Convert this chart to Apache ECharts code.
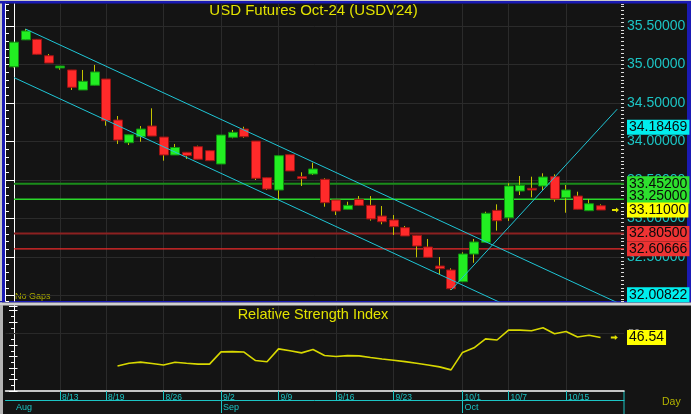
<!DOCTYPE html>
<html><head><meta charset="utf-8">
<script src="https://cdn.jsdelivr.net/npm/echarts@6/dist/echarts.min.js"></script>
<style>html,body{margin:0;padding:0;background:#141414;overflow:hidden}#c{width:691px;height:414px}</style>
</head><body><div id="c"></div>
<script>
// ---------- data ----------
const dates = ['8/6','8/7','8/8','8/9','8/13','8/14','8/15','8/16','8/19','8/20','8/21','8/22','8/23',
  '8/26','8/27','8/28','8/29','8/30','9/2','9/3','9/4','9/5','9/6','9/9','9/10','9/11','9/12','9/13',
  '9/16','9/17','9/18','9/19','9/20','9/23','9/24','9/25','9/26','9/27','9/30','10/1','10/2','10/3','10/4',
  '10/7','10/8','10/9','10/10','10/11','10/15','10/16','10/17','10/18'];
const opens  = [34.970,35.320,35.327,35.114,34.955,34.929,34.669,34.730,34.812,34.279,33.984,34.062,34.201,
  34.058,33.825,33.860,33.933,33.881,33.708,34.055,34.162,34.006,33.530,33.370,33.829,33.543,33.578,33.509,
  33.240,33.119,33.249,33.171,33.032,32.981,32.881,32.782,32.630,32.383,32.331,32.179,32.539,32.691,33.106,
  33.010,33.357,33.392,33.422,33.543,33.270,33.292,33.101,33.166];
const closes = [35.290,35.435,35.132,35.019,34.980,34.704,34.782,34.903,34.270,34.019,34.088,34.162,34.071,
  33.825,33.922,33.816,33.769,33.751,34.084,34.119,34.062,33.522,33.383,33.816,33.617,33.517,33.643,33.205,
  33.097,33.171,33.171,32.994,32.958,32.894,32.773,32.643,32.496,32.348,32.088,32.539,32.695,33.068,32.971,
  33.422,33.431,33.370,33.539,33.253,33.370,33.119,33.192,33.110];
const lows   = [34.960,35.318,35.130,35.019,34.933,34.669,34.669,34.730,34.205,33.968,33.955,33.997,34.071,
  33.751,33.825,33.773,33.769,33.751,33.708,34.042,34.049,33.500,33.370,33.249,33.617,33.422,33.565,33.153,
  33.045,33.119,33.171,32.972,32.925,32.786,32.773,32.496,32.496,32.275,32.071,32.179,32.425,32.691,32.842,
  32.968,33.305,33.275,33.370,33.218,33.075,33.119,33.101,33.110];
const highs  = [35.290,35.461,35.330,35.136,34.980,34.929,34.929,34.994,34.812,34.331,34.088,34.201,34.431,
  34.058,33.968,33.860,33.946,33.881,34.084,34.149,34.192,34.006,33.530,33.816,33.829,33.600,33.725,33.522,
  33.240,33.218,33.292,33.292,33.162,33.045,32.903,32.782,32.734,32.500,32.353,32.561,32.734,33.088,33.184,
  33.457,33.552,33.543,33.587,33.574,33.435,33.348,33.249,33.184];
const rsi = [null,null,null,null,null,null,null,null,null,
  21.7,24.1,25.1,24.0,22.6,25.0,24.1,23.4,23.4,34.1,34.3,33.9,26.5,25.4,36.7,35.0,33.2,36.1,30.9,
  30.0,30.8,30.6,29.1,27.8,26.8,25.6,24.2,22.6,21.0,18.4,33.6,37.6,45.4,44.4,53.0,53.0,52.4,55.0,
  49.8,51.8,47.0,48.5,46.54];
const tickDates = ['8/13','8/19','8/26','9/2','9/9','9/16','9/23','10/1','10/7','10/15'];
const monthLabels = ['Aug','Sep','Oct'];
const monthStartDates = ['8/6','9/2','10/1'];
const levelValues = [33.452, 33.25, 32.805, 32.60666];
const upperTrend  = [[1, 35.461], [51, 32.00822], [53, 31.871]];
const lowerTrend  = [[0, 34.83], [44, 31.79]];
const risingTrend = [[38, 32.071], [51, 34.18469], [52.45, 34.42]];
const rsiMid = 50;
const titleText = 'USD Futures Oct-24 (USDV24)';
const rsiTitle = 'Relative Strength Index';

// ---------- layout / style ----------
const X_MIN = -0.74, X_MAX = 53.04, P_MIN = 31.9286, P_MAX = 35.7857;
const FONT = '"Liberation Sans", Arial, sans-serif';
const CYAN = '#1cc4c4', GRID = '#2b2b2b', TREND = '#1fc6d6', YEL = '#e3e300';
const idx = d => dates.indexOf(d);
const tickIdx = tickDates.map(idx);
const monthIdx = monthStartDates.map(idx);
const lastI = dates.length - 1;
const candleFull = dates.map((d, i) => [i, opens[i], closes[i], lows[i], highs[i]]);
const candleBody = dates.map((d, i) => [i, opens[i], closes[i], Math.min(opens[i], closes[i]), Math.max(opens[i], closes[i])]);
const rsiPts = rsi.map((v, i) => v == null ? null : [i, v]).filter(Boolean);
const ARROW = 'path://M0 1.5 H4 V0 L7 2.5 L4 5 V3.5 H0 Z';

function boxPoint(x, v, bg, txt, offY) {
  return {coord: [x, v], symbol: 'rect', symbolSize: 0.01, itemStyle: {color: 'rgba(0,0,0,0)'},
    label: {show: true, position: 'right', distance: 3, formatter: () => txt, backgroundColor: bg,
      color: '#0a0a0a', fontFamily: FONT, fontSize: 14, lineHeight: 15, padding: [0, 2, 0, 2],
      offset: [0, offY || 0]}};
}
const levelStyles = [
  {c: '#1a8c1a', w: 2, bg: '#2ee02e', off: 0},
  {c: '#2ad82a', w: 1.3, bg: '#2ee02e', off: -3},
  {c: '#8c2020', w: 2, bg: '#ee3333', off: 0},
  {c: '#ee2a2a', w: 1.3, bg: '#ee3333', off: 0}
];
const levelSeries = levelValues.map((v, k) => ({
  type: 'line', xAxisIndex: 0, yAxisIndex: 0, data: [[0, v], [X_MAX, v]], symbol: 'none', silent: true, z: 3,
  lineStyle: {color: levelStyles[k].c, width: levelStyles[k].w, type: 'solid'}
}));
const labelPoints = levelValues.map((v, k) => boxPoint(X_MAX, v, levelStyles[k].bg, v.toFixed(5), levelStyles[k].off))
  .concat([
    boxPoint(X_MAX, risingTrend[1][1], '#00eeee', risingTrend[1][1].toFixed(5)),
    boxPoint(X_MAX, upperTrend[1][1], '#00eeee', upperTrend[1][1].toFixed(5)),
    boxPoint(X_MAX, closes[lastI], '#ffff00', closes[lastI].toFixed(5)),
    {coord: [52.3, closes[lastI]], symbol: ARROW, symbolSize: [7, 5], itemStyle: {color: YEL}, label: {show: false}}
  ]);

const chart = echarts.init(document.getElementById('c'), null, {renderer: 'canvas'});
const option = {
  animation: false,
  backgroundColor: '#141414',
  textStyle: {fontFamily: FONT},
  grid: [
    {left: 5.5, top: 4, width: 618.5, height: 297},
    {left: 5.5, top: 306, width: 618.5, height: 85}
  ],
  xAxis: [
    {gridIndex: 0, type: 'value', min: X_MIN, max: X_MAX, axisLine: {show: false},
     axisTick: {show: false, customValues: tickIdx}, axisLabel: {show: false, customValues: tickIdx},
     splitLine: {show: true, lineStyle: {color: GRID, width: 1}}},
    {gridIndex: 1, type: 'value', min: X_MIN, max: X_MAX, position: 'bottom',
     axisLine: {show: true, onZero: false, lineStyle: {color: '#ffffff', width: 1.5}},
     axisTick: {show: true, customValues: tickIdx, length: 9, lineStyle: {color: CYAN, width: 1}},
     axisLabel: {show: true, customValues: tickIdx, formatter: v => dates[Math.round(v)], color: CYAN,
       fontFamily: FONT, fontSize: 8.5, align: 'left', verticalAlign: 'top', margin: 2, padding: [0, 0, 0, 2]},
     splitLine: {show: true, lineStyle: {color: GRID, width: 1}}},
    {gridIndex: 1, type: 'value', min: X_MIN, max: X_MAX, position: 'bottom', offset: 9,
     axisLine: {show: true, onZero: false, lineStyle: {color: CYAN, width: 1}},
     axisTick: {show: true, customValues: monthIdx.slice(1), length: 13, lineStyle: {color: CYAN, width: 1}},
     axisLabel: {show: true, customValues: monthIdx, formatter: v => monthLabels[monthIdx.indexOf(Math.round(v))],
       color: CYAN, fontFamily: FONT, fontSize: 9, align: 'left', verticalAlign: 'top', margin: 3, padding: [0, 0, 0, 2]},
     splitLine: {show: false}}
  ],
  yAxis: [
    {gridIndex: 0, type: 'value', position: 'right', min: P_MIN, max: P_MAX, splitNumber: 8,
     axisLine: {show: true, lineStyle: {color: '#ffffff', width: 1}},
     axisTick: {show: true, inside: true, length: 6, lineStyle: {color: '#ffffff'}},
     axisLabel: {show: true, color: CYAN, fontFamily: FONT, fontSize: 14, margin: 3,
       formatter: v => v.toFixed(5), showMinLabel: false, showMaxLabel: false},
     splitLine: {show: true, showMinLine: false, showMaxLine: false, lineStyle: {color: GRID, width: 1}}},
    {gridIndex: 0, type: 'value', position: 'left', min: P_MIN, max: P_MAX, splitNumber: 38,
     axisLine: {show: true, lineStyle: {color: '#ffffff', width: 1}},
     axisTick: {show: true, inside: true, length: 3.5, lineStyle: {color: '#ffffff'}},
     axisLabel: {show: false}, splitLine: {show: false}},
    {gridIndex: 0, type: 'value', position: 'right', min: P_MIN, max: P_MAX, splitNumber: 77,
     axisLine: {show: false},
     axisTick: {show: true, inside: true, length: 3, lineStyle: {color: '#dddddd'}},
     axisLabel: {show: false}, splitLine: {show: false}},
    {gridIndex: 1, type: 'value', position: 'right', min: 0, max: 74, interval: 10,
     axisLine: {show: true, lineStyle: {color: '#ffffff', width: 1}},
     axisTick: {show: true, inside: true, length: 5, lineStyle: {color: '#ffffff'}},
     minorTick: {show: true, splitNumber: 2, length: 3, lineStyle: {color: '#ffffff'}},
     axisLabel: {show: true, customValues: [rsiMid], color: '#9a9a9a', fontFamily: FONT, fontSize: 11, margin: 4},
     splitLine: {show: false}},
    {gridIndex: 1, type: 'value', position: 'left', min: 0, max: 74, interval: 10,
     axisLine: {show: true, lineStyle: {color: '#ffffff', width: 1}},
     axisTick: {show: true, inside: true, length: 3.5, lineStyle: {color: '#ffffff'}},
     axisLabel: {show: false}, splitLine: {show: false}}
  ],
  series: [
    {type: 'line', name: 'rsiMid', xAxisIndex: 1, yAxisIndex: 3, data: [[X_MIN, rsiMid], [X_MAX, rsiMid]],
     symbol: 'none', silent: true, z: 1, lineStyle: {color: GRID, width: 1}},
    {type: 'candlestick', name: 'wick', xAxisIndex: 0, yAxisIndex: 0, data: candleFull, barWidth: 1,
     itemStyle: {color: '#c4c400', color0: '#c4c400', borderColor: '#c4c400', borderColor0: '#c4c400', borderWidth: 1},
     silent: true, z: 4},
    {type: 'candlestick', name: 'body', xAxisIndex: 0, yAxisIndex: 0, data: candleBody, barWidth: 9.5,
     itemStyle: {color: '#22ee22', color0: '#ff2a2a', borderColor: '#119011', borderColor0: '#9a1414', borderWidth: 1},
     silent: true, z: 5}
  ].concat(levelSeries).concat([
    {type: 'line', name: 'upper', xAxisIndex: 0, yAxisIndex: 0, data: upperTrend, symbol: 'none', clip: true,
     lineStyle: {color: TREND, width: 1}, silent: true, z: 6},
    {type: 'line', name: 'lower', xAxisIndex: 0, yAxisIndex: 0, data: lowerTrend, symbol: 'none', clip: true,
     lineStyle: {color: TREND, width: 1}, silent: true, z: 6},
    {type: 'line', name: 'rising', xAxisIndex: 0, yAxisIndex: 0, data: risingTrend, symbol: 'none', clip: true,
     lineStyle: {color: TREND, width: 1}, silent: true, z: 6,
     markPoint: {silent: true, animation: false, data: labelPoints}},
    {type: 'line', name: 'RSI', xAxisIndex: 1, yAxisIndex: 3, data: rsiPts, symbol: 'none',
     lineStyle: {color: '#d8d800', width: 1.6}, silent: true, z: 6,
     markPoint: {silent: true, animation: false, data: [
       boxPoint(X_MAX, rsi[lastI], '#ffff00', rsi[lastI].toFixed(2)),
       {coord: [52.2, rsi[lastI]], symbol: ARROW, symbolSize: [7, 5], itemStyle: {color: YEL}, label: {show: false}}
     ]}}
  ]),
  graphic: [
    {type: 'rect', shape: {x: 0, y: 0, width: 691, height: 1}, style: {fill: '#c8c8c8'}, silent: true},
    {type: 'rect', shape: {x: 0, y: 0, width: 2, height: 414}, style: {fill: '#c8c8c8'}, silent: true},
    {type: 'rect', shape: {x: 0, y: 1, width: 691, height: 2.5}, style: {fill: '#1a1ab4'}, silent: true},
    {type: 'rect', shape: {x: 2, y: 1, width: 3, height: 301}, style: {fill: '#1a1ab4'}, silent: true},
    {type: 'rect', shape: {x: 687, y: 1, width: 4, height: 301}, style: {fill: '#1a1ab4'}, silent: true},
    {type: 'rect', shape: {x: 0, y: 301, width: 691, height: 1.6}, style: {fill: '#1a1ab4'}, silent: true},
    {type: 'rect', shape: {x: 0, y: 302.6, width: 691, height: 3}, style: {fill: '#d0d0d0'}, silent: true},
    {type: 'rect', shape: {x: 0, y: 305, width: 3, height: 109}, style: {fill: '#b4b4b4'}, silent: true},
    {type: 'line', shape: {x1: 624, y1: 391, x2: 624, y2: 414}, style: {stroke: CYAN, lineWidth: 1}, silent: true},
    {type: 'text', x: 313.5, y: 11, silent: true,
     style: {text: titleText, fill: YEL, fontFamily: FONT, fontSize: 15, align: 'center', verticalAlign: 'middle'}},
    {type: 'text', x: 313, y: 315, silent: true,
     style: {text: rsiTitle, fill: YEL, fontFamily: FONT, fontSize: 14.5, align: 'center', verticalAlign: 'middle'}},
    {type: 'text', x: 15, y: 297, silent: true,
     style: {text: 'No Gaps', fill: '#a8a800', fontFamily: FONT, fontSize: 9, align: 'left', verticalAlign: 'middle'}},
    {type: 'text', x: 662, y: 402, silent: true,
     style: {text: 'Day', fill: '#b4b400', fontFamily: FONT, fontSize: 10.5, align: 'left', verticalAlign: 'middle'}}
  ]
};
chart.setOption(option);
</script>
</body></html>
